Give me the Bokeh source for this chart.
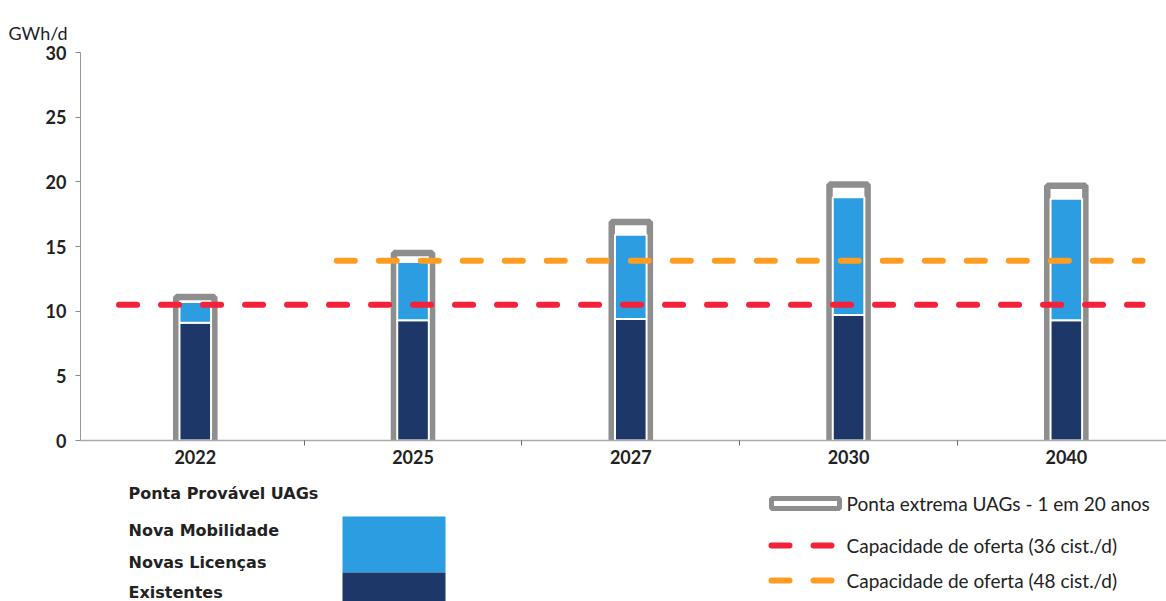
from bokeh.plotting import figure
from bokeh.models import Range1d, FixedTicker
from bokeh.layouts import column
from bokeh.embed import file_html
from bokeh.resources import INLINE
from bokeh.core.properties import value

# ---------------- data ----------------
years = ["2022", "2025", "2027", "2030", "2040"]
existentes = [9.1, 9.3, 9.4, 9.7, 9.3]              # dark blue
nova_mob_licencas = [1.6, 4.5, 6.5, 9.1, 9.4]       # light blue (Nova Mobilidade + Novas Licenças)
ponta_extrema = [11.1, 14.5, 16.9, 19.8, 19.7]      # grey outline bar
cap_36 = [10.5, 10.5, 10.5, 10.5, 10.5]             # red dashed
cap_48 = [None, 13.9, 13.9, 13.9, 13.9]             # orange dashed
y_ticks = [0, 5, 10, 15, 20, 25, 30]

legend_left_title = "Ponta Provável UAGs"
legend_left_labels = ["Nova Mobilidade", "Novas Licenças", "Existentes"]
legend_right_labels = ["Ponta extrema UAGs - 1 em 20 anos",
                       "Capacidade de oferta (36 cist./d)",
                       "Capacidade de oferta (48 cist./d)"]

# ---------------- style ----------------
LIGHT = "#2b9de0"
DARK = "#1c3768"
GREY = "#8e8e8e"
RED = "#f5203a"
ORANGE = "#ff9d22"
TXT = "#222222"
FONT = "Lato"

xs = list(range(len(years)))
stack_top = [e + n for e, n in zip(existentes, nova_mob_licencas)]

p = figure(width=1166, height=470, output_backend="svg", toolbar_location=None,
           x_range=Range1d(-0.527, 4.46), y_range=Range1d(0, 30),
           min_border_left=80, min_border_right=0, min_border_top=52, min_border_bottom=30)
p.outline_line_color = None
p.xgrid.visible = False
p.ygrid.visible = False

# title as axis unit label
p.title.text = "GWh/d"
p.title.align = "left"
p.title.offset = -72
p.title.standoff = 18
p.title.text_font = FONT
p.title.text_font_size = "18px"
p.title.text_font_style = "normal"
p.title.text_color = TXT

# grey outline bars (extreme peak)
p.vbar(x=xs, top=ponta_extrema, bottom=0, width=0.175, fill_color="white",
       line_color=GREY, line_width=6.5)
# stacked blue bars
p.vbar(x=xs, top=existentes, bottom=0, width=0.145, fill_color=DARK,
       line_color="white", line_width=2)
p.vbar(x=xs, top=stack_top, bottom=existentes, width=0.145, fill_color=LIGHT,
       line_color="white", line_width=2)

EXT = 0.35
def dashed(series, color):
    idx = [i for i, v in enumerate(series) if v is not None]
    lx = [idx[0] - EXT] + idx + [idx[-1] + EXT]
    ly = [series[idx[0]]] + [series[i] for i in idx] + [series[idx[-1]]]
    p.line(lx, ly, line_color=color, line_width=6, line_dash="18 24", line_cap="round")

dashed(cap_36, RED)
dashed(cap_48, ORANGE)

# axes
p.xaxis.ticker = FixedTicker(ticks=xs, minor_ticks=[i + 0.5 for i in xs[:-1]])
p.xaxis.major_label_overrides = {i: y for i, y in zip(xs, years)}
p.xaxis.major_tick_out = 0
p.xaxis.major_tick_in = 0
p.xaxis.minor_tick_out = 5
p.xaxis.minor_tick_in = 0
p.xaxis.minor_tick_line_color = "#666666"
p.xaxis.axis_line_color = "#aaaaaa"
p.xaxis.axis_line_width = 1.5
p.xaxis.major_label_standoff = 4
p.xaxis.major_label_text_font = FONT
p.xaxis.major_label_text_font_style = "bold"
p.xaxis.major_label_text_font_size = "18px"
p.xaxis.major_label_text_color = TXT

p.yaxis.ticker = FixedTicker(ticks=y_ticks, minor_ticks=[])
p.yaxis.major_tick_out = 5
p.yaxis.major_tick_in = 0
p.yaxis.major_tick_line_color = "#888888"
p.yaxis.axis_line_color = "#999999"
p.yaxis.major_label_standoff = 9
p.yaxis.major_label_text_font = FONT
p.yaxis.major_label_text_font_style = "bold"
p.yaxis.major_label_text_font_size = "18px"
p.yaxis.major_label_text_color = TXT

# ---------------- legend panel (coordinates = page pixels) ----------------
lg = figure(width=1166, height=131, output_backend="svg", toolbar_location=None,
            x_range=Range1d(80, 1166), y_range=Range1d(131, 0),
            min_border_left=80, min_border_right=0,
            min_border_top=0, min_border_bottom=0)
lg.outline_line_color = None
lg.axis.visible = False
lg.grid.visible = False

LF = "DejaVu Sans"
lg.text(x=[128], y=[23], text=[legend_left_title], text_font=value(LF),
        text_font_style="bold", text_font_size="16px", text_color=TXT,
        text_baseline="middle")
lg.text(x=[128, 128, 128], y=[60, 92, 122], text=legend_left_labels,
        text_font=value(LF), text_font_style="bold", text_font_size="16px",
        text_color=TXT, text_baseline="middle")
lg.quad(left=[342], right=[445], top=[46], bottom=[102], fill_color=LIGHT, line_color=None)
lg.quad(left=[342], right=[445], top=[102], bottom=[140], fill_color=DARK, line_color=None)

lg.quad(left=[771], right=[839], top=[28], bottom=[38], fill_color="white",
        line_color=GREY, line_width=5)
lg.line([771, 842], [75, 75], line_color=RED, line_width=6, line_dash="18 24", line_cap="round")
lg.line([771, 842], [110, 110], line_color=ORANGE, line_width=6, line_dash="18 24", line_cap="round")
lg.text(x=[846, 846, 846], y=[33, 75, 110], text=legend_right_labels,
        text_font=value(FONT), text_font_size="19px", text_color=TXT,
        text_baseline="middle")

layout = column(p, lg, spacing=0)
open("out.html", "w").write(file_html(layout, INLINE))
